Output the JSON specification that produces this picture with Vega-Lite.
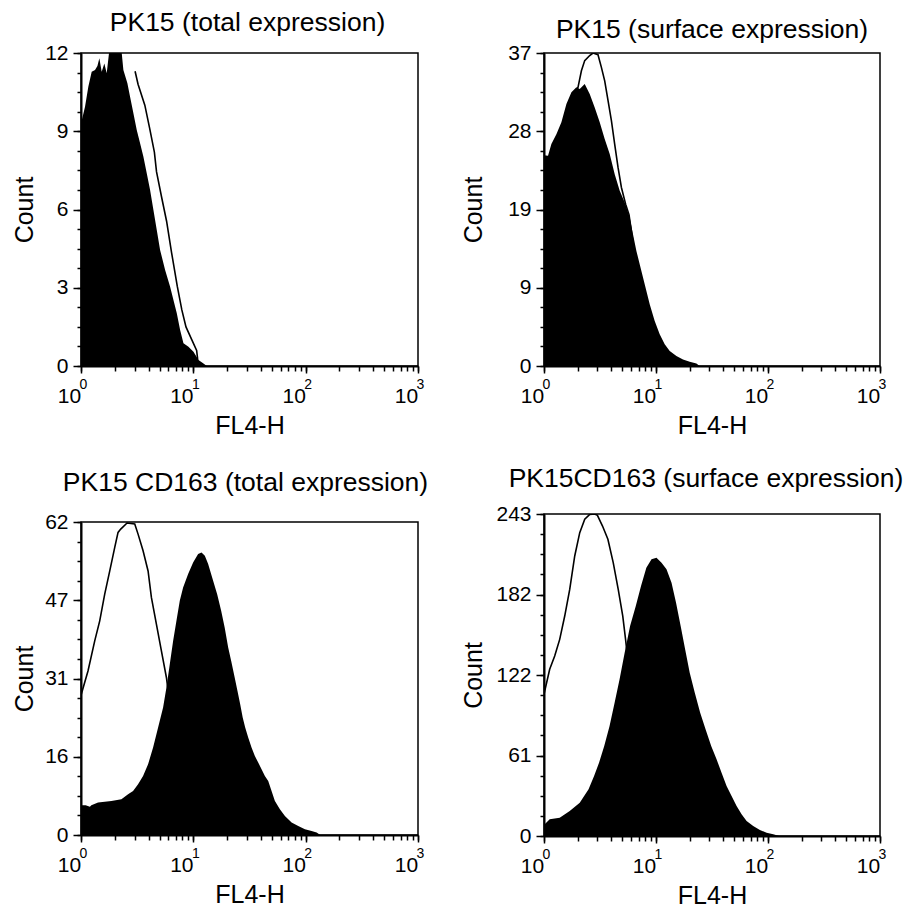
{
  "$schema": "https://vega.github.io/schema/vega-lite/v6.json",
  "background": "white",
  "padding": {"left": 11, "top": 8, "right": 5, "bottom": 5},
  "config": {
    "font": "Liberation Sans",
    "view": {"stroke": "black", "strokeWidth": 1.5},
    "axis": {
      "grid": false, "labelFlush": false, "labelOverlap": false,
      "labelFont": "Liberation Sans", "labelColor": "black",
      "titleFont": "Liberation Sans", "titleFontWeight": "normal", "titleColor": "black",
      "tickColor": "black", "tickWidth": 1.5, "domainColor": "black", "domainWidth": 2
    },
    "title": {"font": "Liberation Sans", "fontWeight": "normal", "color": "black", "fontSize": 26.5, "baseline": "alphabetic", "anchor": "middle"}
  },
  "hconcat": [
    {
      "spacing": 29,
      "vconcat": [
        {
          "width": 337, "height": 313,
          "title": {"text": "PK15 (total expression)", "offset": 6, "dx": -2},
          "layer": [
            {
              "data": {"values": [
                {"fl":1,"count":9.4},{"fl":1.02,"count":9.45},{"fl":1.086,"count":9.94},{"fl":1.162,"count":10.71},{"fl":1.245,"count":11.28},{"fl":1.333,"count":11.35},{"fl":1.4,"count":11.5},{"fl":1.457,"count":11.8},{"fl":1.528,"count":11.28},{"fl":1.614,"count":11.6},{"fl":1.694,"count":11.22},{"fl":1.776,"count":12},{"fl":2.304,"count":12},{"fl":2.384,"count":11.35},{"fl":2.588,"count":10.84},{"fl":2.734,"count":10.32},{"fl":2.927,"count":9.69},{"fl":3.135,"count":9.05},{"fl":3.357,"count":8.54},{"fl":3.594,"count":8.02},{"fl":3.848,"count":7.39},{"fl":4.121,"count":6.75},{"fl":4.413,"count":5.98},{"fl":4.725,"count":5.21},{"fl":5.059,"count":4.45},{"fl":5.607,"count":3.68},{"fl":6.213,"count":3.04},{"fl":6.652,"count":2.53},{"fl":7.124,"count":2.02},{"fl":7.627,"count":1.38},{"fl":8.166,"count":0.87},{"fl":9.05,"count":0.74},{"fl":10.03,"count":0.55},{"fl":11.11,"count":0.23},{"fl":12.31,"count":0.1},{"fl":13.18,"count":0}
              ]},
              "mark": {"type": "area", "color": "black", "clip": true},
              "encoding": {
                "x": {"field": "fl", "type": "quantitative", "scale": {"type": "log", "domain": [1, 1000], "nice": false},
                  "axis": {"orient": "bottom", "values": [1, 10, 100, 1000], "tickSize": 7, "labelPadding": 12, "labelFontSize": 21, "labelExpr": "'10'", "labelOffset": -12, "title": "FL4-H", "titleFontSize": 25, "titlePadding": 7}},
                "y": {"field": "count", "type": "quantitative", "scale": {"domain": [0, 12], "nice": false},
                  "axis": {"orient": "left", "values": [0, 3, 6, 9, 12], "format": ".0f", "tickSize": 8, "labelPadding": 5, "labelFontSize": 21, "title": "Count", "titleFontSize": 25, "titlePadding": 7}}
              }
            },
            {
              "data": {"values": [
                {"fl":3.03,"count":11.3},{"fl":3.22,"count":10.8},{"fl":3.7,"count":10.0},{"fl":4.09,"count":9.1},{"fl":4.5,"count":8.2},{"fl":4.7,"count":7.45},{"fl":5.22,"count":6.47},{"fl":5.78,"count":5.55},{"fl":6.4,"count":4.35},{"fl":7.2,"count":3.05},{"fl":7.9,"count":2.15},{"fl":8.6,"count":1.5},{"fl":9.7,"count":1.0},{"fl":10.7,"count":0.6},{"fl":10.9,"count":0.3},{"fl":11,"count":0}
              ]},
              "mark": {"type": "line", "color": "black", "strokeWidth": 1.6, "clip": true},
              "encoding": {
                "x": {"field": "fl", "type": "quantitative", "scale": {"type": "log", "domain": [1, 1000], "nice": false},
                  "axis": {"orient": "bottom", "values": [1,2,3,4,5,6,7,8,9,10,20,30,40,50,60,70,80,90,100,200,300,400,500,600,700,800,900,1000], "tickSize": 5, "labelPadding": 6, "labelFontSize": 14, "labelExpr": "datum.value == 1 ? '0' : datum.value == 10 ? '1' : datum.value == 100 ? '2' : datum.value == 1000 ? '3' : ''", "labelOffset": 2, "domain": false, "title": null}},
                "y": {"field": "count", "type": "quantitative", "scale": {"domain": [0, 12], "nice": false},
                  "axis": {"orient": "left", "values": [0,0.75,1.5,2.25,3,3.75,4.5,5.25,6,6.75,7.5,8.25,9,9.75,10.5,11.25,12], "tickSize": 4, "labels": false, "domain": false, "title": null}}
              }
            }
          ],
          "resolve": {"axis": {"x": "independent", "y": "independent"}}
        },
        {
          "width": 337, "height": 313,
          "title": {"text": "PK15 CD163 (total expression)", "offset": 15, "dx": -4},
          "layer": [
            {
              "data": {"values": [
                {"fl":1,"count":5.9},{"fl":1.1,"count":5.9},{"fl":1.2,"count":5.6},{"fl":1.236,"count":5.9},{"fl":1.418,"count":6.42},{"fl":1.864,"count":6.74},{"fl":2.288,"count":7.08},{"fl":2.624,"count":8.07},{"fl":2.908,"count":8.72},{"fl":3.221,"count":10.05},{"fl":3.569,"count":11.7},{"fl":3.955,"count":14.01},{"fl":4.383,"count":17.32},{"fl":4.857,"count":21.29},{"fl":5.381,"count":25.25},{"fl":5.762,"count":29.22},{"fl":6.17,"count":33.84},{"fl":6.607,"count":38.45},{"fl":7.074,"count":42.42},{"fl":7.575,"count":46.38},{"fl":8.111,"count":49.04},{"fl":8.988,"count":51.68},{"fl":9.958,"count":53.99},{"fl":11.03,"count":55.64},{"fl":11.82,"count":55.98},{"fl":12.66,"count":55.3},{"fl":13.55,"count":53.66},{"fl":14.71,"count":51.0},{"fl":16.3,"count":47.7},{"fl":17.69,"count":44.4},{"fl":19.01,"count":41.1},{"fl":20.43,"count":37.14},{"fl":21.73,"count":34.49},{"fl":23.34,"count":31.2},{"fl":24.72,"count":28.54},{"fl":26.13,"count":25.91},{"fl":27.51,"count":23.27},{"fl":28.95,"count":21.29},{"fl":30.79,"count":19.3},{"fl":32.97,"count":17.32},{"fl":35.3,"count":15.66},{"fl":37.8,"count":14.35},{"fl":40.48,"count":13.02},{"fl":43.35,"count":11.7},{"fl":46.42,"count":10.7},{"fl":49.7,"count":8.72},{"fl":53.22,"count":6.74},{"fl":58.98,"count":5.09},{"fl":65.35,"count":3.77},{"fl":74.93,"count":2.46},{"fl":85.9,"count":1.78},{"fl":98.5,"count":1.13},{"fl":112.9,"count":0.79},{"fl":125.2,"count":0.48},{"fl":134.9,"count":0}
              ]},
              "mark": {"type": "area", "color": "black", "clip": true},
              "encoding": {
                "x": {"field": "fl", "type": "quantitative", "scale": {"type": "log", "domain": [1, 1000], "nice": false},
                  "axis": {"orient": "bottom", "values": [1, 10, 100, 1000], "tickSize": 7, "labelPadding": 12, "labelFontSize": 21, "labelExpr": "'10'", "labelOffset": -12, "title": "FL4-H", "titleFontSize": 25, "titlePadding": 7}},
                "y": {"field": "count", "type": "quantitative", "scale": {"domain": [0, 62], "nice": false},
                  "axis": {"orient": "left", "values": [0, 15.5, 31, 46.5, 62], "format": ".0f", "tickSize": 8, "labelPadding": 5, "labelFontSize": 21, "title": "Count", "titleFontSize": 25, "titlePadding": 7}}
              }
            },
            {
              "data": {"values": [
                {"fl":1,"count":27.6},{"fl":1.006,"count":27.88},{"fl":1.154,"count":32.5},{"fl":1.325,"count":38.45},{"fl":1.468,"count":42.42},{"fl":1.626,"count":47.71},{"fl":1.803,"count":52.33},{"fl":1.997,"count":56.97},{"fl":2.137,"count":59.94},{"fl":2.258,"count":60.6},{"fl":2.57,"count":61.8},{"fl":3.01,"count":61.6},{"fl":3.221,"count":59.6},{"fl":3.569,"count":56.3},{"fl":3.955,"count":52.3},{"fl":4.233,"count":47.05},{"fl":4.69,"count":41.76},{"fl":5.197,"count":36.47},{"fl":5.759,"count":31.2},{"fl":6.5,"count":22},{"fl":8,"count":12},{"fl":10,"count":5},{"fl":15,"count":1},{"fl":20,"count":0}
              ]},
              "mark": {"type": "line", "color": "black", "strokeWidth": 1.6, "clip": true},
              "encoding": {
                "x": {"field": "fl", "type": "quantitative", "scale": {"type": "log", "domain": [1, 1000], "nice": false},
                  "axis": {"orient": "bottom", "values": [1,2,3,4,5,6,7,8,9,10,20,30,40,50,60,70,80,90,100,200,300,400,500,600,700,800,900,1000], "tickSize": 5, "labelPadding": 6, "labelFontSize": 14, "labelExpr": "datum.value == 1 ? '0' : datum.value == 10 ? '1' : datum.value == 100 ? '2' : datum.value == 1000 ? '3' : ''", "labelOffset": 2, "domain": false, "title": null}},
                "y": {"field": "count", "type": "quantitative", "scale": {"domain": [0, 62], "nice": false},
                  "axis": {"orient": "left", "values": [0,3.875,7.75,11.625,15.5,19.375,23.25,27.125,31,34.875,38.75,42.625,46.5,50.375,54.25,58.125,62], "tickSize": 4, "labels": false, "domain": false, "title": null}}
              }
            }
          ],
          "resolve": {"axis": {"x": "independent", "y": "independent"}}
        }
      ]
    },
    {
      "spacing": 25,
      "vconcat": [
        {
          "width": 336, "height": 313,
          "title": {"text": "PK15 (surface expression)", "offset": -1, "dx": 0},
          "layer": [
            {
              "data": {"values": [
                {"fl":1,"count":24.9},{"fl":1.086,"count":24.86},{"fl":1.164,"count":26.23},{"fl":1.29,"count":27.41},{"fl":1.43,"count":28.8},{"fl":1.585,"count":30.96},{"fl":1.757,"count":32.35},{"fl":1.947,"count":32.94},{"fl":2.084,"count":32.74},{"fl":2.309,"count":33.33},{"fl":2.559,"count":32.15},{"fl":2.836,"count":30.57},{"fl":3.144,"count":28.8},{"fl":3.483,"count":26.82},{"fl":3.861,"count":25.05},{"fl":4.279,"count":22.68},{"fl":4.743,"count":20.71},{"fl":5.256,"count":19.33},{"fl":5.825,"count":17.55},{"fl":6.231,"count":15.58},{"fl":6.683,"count":13.6},{"fl":7.153,"count":12.03},{"fl":7.928,"count":9.66},{"fl":8.787,"count":7.29},{"fl":9.737,"count":5.33},{"fl":10.79,"count":3.74},{"fl":11.96,"count":2.56},{"fl":13.26,"count":1.78},{"fl":15.21,"count":1.18},{"fl":17.42,"count":0.78},{"fl":20,"count":0.51},{"fl":22.95,"count":0.3},{"fl":24.5,"count":0}
              ]},
              "mark": {"type": "area", "color": "black", "clip": true},
              "encoding": {
                "x": {"field": "fl", "type": "quantitative", "scale": {"type": "log", "domain": [1, 1000], "nice": false},
                  "axis": {"orient": "bottom", "values": [1, 10, 100, 1000], "tickSize": 7, "labelPadding": 12, "labelFontSize": 21, "labelExpr": "'10'", "labelOffset": -12, "title": "FL4-H", "titleFontSize": 25, "titlePadding": 7}},
                "y": {"field": "count", "type": "quantitative", "scale": {"domain": [0, 37], "nice": false},
                  "axis": {"orient": "left", "values": [0, 9.25, 18.5, 27.75, 37], "format": ".0f", "tickSize": 8, "labelPadding": 5, "labelFontSize": 21, "title": "Count", "titleFontSize": 25, "titlePadding": 21}}
              }
            },
            {
              "data": {"values": [
                {"fl":1.9,"count":32.0},{"fl":2.012,"count":32.94},{"fl":2.158,"count":34.9},{"fl":2.309,"count":36.1},{"fl":2.559,"count":36.7},{"fl":2.738,"count":37},{"fl":3.034,"count":36.8},{"fl":3.254,"count":35.3},{"fl":3.483,"count":33.7},{"fl":3.728,"count":31.4},{"fl":3.998,"count":29.0},{"fl":4.279,"count":26.2},{"fl":4.578,"count":23.5},{"fl":4.911,"count":21.1},{"fl":5.364,"count":19.1},{"fl":5.741,"count":17.9},{"fl":7,"count":10},{"fl":9,"count":4},{"fl":12,"count":0.5},{"fl":15,"count":0}
              ]},
              "mark": {"type": "line", "color": "black", "strokeWidth": 1.6, "clip": true},
              "encoding": {
                "x": {"field": "fl", "type": "quantitative", "scale": {"type": "log", "domain": [1, 1000], "nice": false},
                  "axis": {"orient": "bottom", "values": [1,2,3,4,5,6,7,8,9,10,20,30,40,50,60,70,80,90,100,200,300,400,500,600,700,800,900,1000], "tickSize": 5, "labelPadding": 6, "labelFontSize": 14, "labelExpr": "datum.value == 1 ? '0' : datum.value == 10 ? '1' : datum.value == 100 ? '2' : datum.value == 1000 ? '3' : ''", "labelOffset": 2, "domain": false, "title": null}},
                "y": {"field": "count", "type": "quantitative", "scale": {"domain": [0, 37], "nice": false},
                  "axis": {"orient": "left", "values": [0,2.3125,4.625,6.9375,9.25,11.5625,13.875,16.1875,18.5,20.8125,23.125,25.4375,27.75,30.0625,32.375,34.6875,37], "tickSize": 4, "labels": false, "domain": false, "title": null}}
              }
            }
          ],
          "resolve": {"axis": {"x": "independent", "y": "independent"}}
        },
        {
          "width": 336, "height": 322,
          "title": {"text": "PK15CD163 (surface expression)", "offset": 11, "dx": -6},
          "layer": [
            {
              "data": {"values": [
                {"fl":1,"count":8.8},{"fl":1.015,"count":8.83},{"fl":1.124,"count":12.6},{"fl":1.381,"count":13.8},{"fl":1.697,"count":18.87},{"fl":2.085,"count":25.1},{"fl":2.5,"count":35.2},{"fl":2.8,"count":45.3},{"fl":3.1,"count":55.3},{"fl":3.45,"count":67.9},{"fl":3.85,"count":83.0},{"fl":4.27,"count":100.6},{"fl":4.73,"count":118.3},{"fl":5.25,"count":138.3},{"fl":5.87,"count":158.5},{"fl":6.6,"count":173.6},{"fl":7.35,"count":188.7},{"fl":8.2,"count":202.5},{"fl":9.117,"count":208.8},{"fl":10.1,"count":210.0},{"fl":11.2,"count":206.2},{"fl":12.41,"count":201.3},{"fl":13.76,"count":191.2},{"fl":15.1,"count":176.1},{"fl":16.6,"count":158.5},{"fl":18.2,"count":140.9},{"fl":20.0,"count":123.2},{"fl":22.2,"count":108.1},{"fl":24.8,"count":93.0},{"fl":27.7,"count":80.5},{"fl":31.1,"count":67.9},{"fl":34.73,"count":57.9},{"fl":38.49,"count":47.8},{"fl":42.66,"count":37.7},{"fl":47.29,"count":30.2},{"fl":52.42,"count":22.6},{"fl":58.1,"count":16.4},{"fl":64.4,"count":11.3},{"fl":73.77,"count":7.5},{"fl":84.65,"count":4.5},{"fl":97.2,"count":2.5},{"fl":111.3,"count":1.3},{"fl":126,"count":0}
              ]},
              "mark": {"type": "area", "color": "black", "clip": true},
              "encoding": {
                "x": {"field": "fl", "type": "quantitative", "scale": {"type": "log", "domain": [1, 1000], "nice": false},
                  "axis": {"orient": "bottom", "values": [1, 10, 100, 1000], "tickSize": 7, "labelPadding": 12, "labelFontSize": 21, "labelExpr": "'10'", "labelOffset": -12, "title": "FL4-H", "titleFontSize": 25, "titlePadding": 7}},
                "y": {"field": "count", "type": "quantitative", "scale": {"domain": [0, 243], "nice": false},
                  "axis": {"orient": "left", "values": [0, 60.75, 121.5, 182.25, 243], "format": ".0f", "tickSize": 8, "labelPadding": 5, "labelFontSize": 21, "title": "Count", "titleFontSize": 25, "titlePadding": 9}}
              }
            },
            {
              "data": {"values": [
                {"fl":1,"count":107},{"fl":1.015,"count":109.4},{"fl":1.124,"count":125.8},{"fl":1.246,"count":135.8},{"fl":1.381,"count":148.4},{"fl":1.531,"count":166},{"fl":1.697,"count":186.1},{"fl":1.881,"count":211.3},{"fl":2.085,"count":228.9},{"fl":2.311,"count":239},{"fl":2.561,"count":242.7},{"fl":2.839,"count":243},{"fl":3.0,"count":242},{"fl":3.33,"count":233.9},{"fl":3.72,"count":223.9},{"fl":4.15,"count":206.3},{"fl":4.6,"count":186.1},{"fl":5.05,"count":166},{"fl":5.35,"count":148.4},{"fl":5.55,"count":135.8},{"fl":6.5,"count":100},{"fl":8,"count":60},{"fl":10,"count":30},{"fl":15,"count":8},{"fl":20,"count":0}
              ]},
              "mark": {"type": "line", "color": "black", "strokeWidth": 1.6, "clip": true},
              "encoding": {
                "x": {"field": "fl", "type": "quantitative", "scale": {"type": "log", "domain": [1, 1000], "nice": false},
                  "axis": {"orient": "bottom", "values": [1,2,3,4,5,6,7,8,9,10,20,30,40,50,60,70,80,90,100,200,300,400,500,600,700,800,900,1000], "tickSize": 5, "labelPadding": 6, "labelFontSize": 14, "labelExpr": "datum.value == 1 ? '0' : datum.value == 10 ? '1' : datum.value == 100 ? '2' : datum.value == 1000 ? '3' : ''", "labelOffset": 2, "domain": false, "title": null}},
                "y": {"field": "count", "type": "quantitative", "scale": {"domain": [0, 243], "nice": false},
                  "axis": {"orient": "left", "values": [0,15.1875,30.375,45.5625,60.75,75.9375,91.125,106.3125,121.5,136.6875,151.875,167.0625,182.25,197.4375,212.625,227.8125,243], "tickSize": 4, "labels": false, "domain": false, "title": null}}
              }
            }
          ],
          "resolve": {"axis": {"x": "independent", "y": "independent"}}
        }
      ]
    }
  ],
  "spacing": 31
}
